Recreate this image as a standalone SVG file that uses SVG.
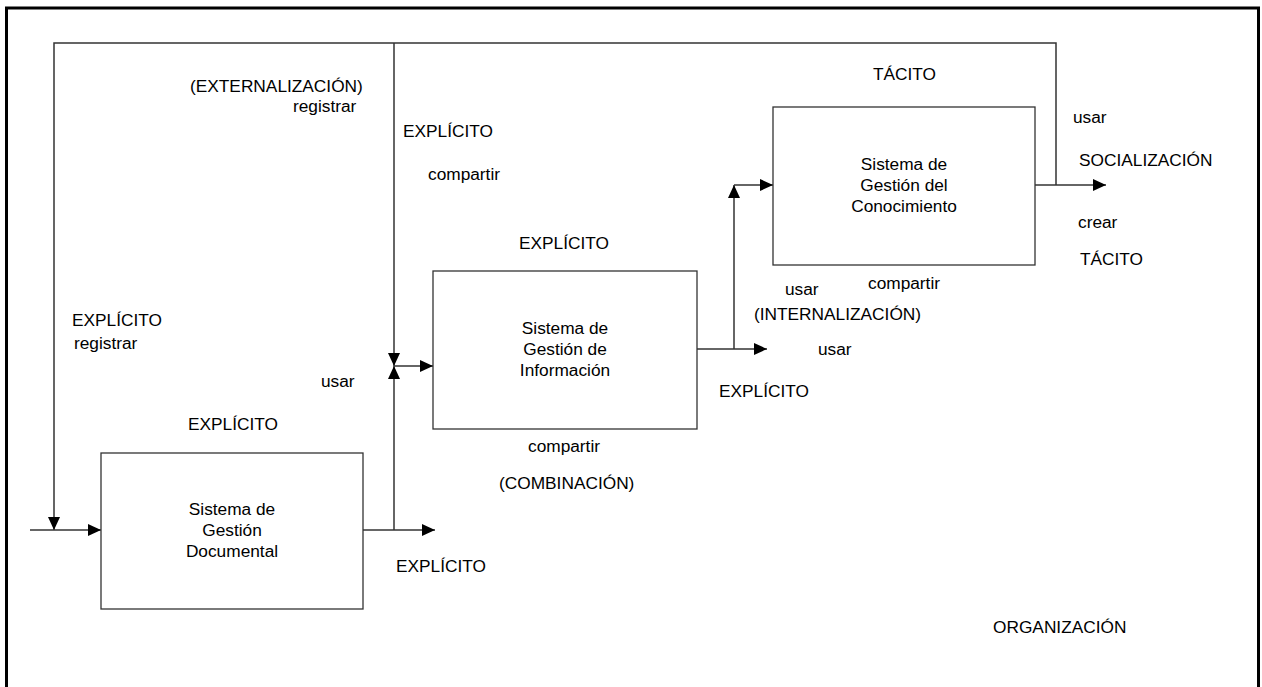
<svg xmlns="http://www.w3.org/2000/svg" width="1262" height="687" viewBox="0 0 1262 687">
  <style>
    .frame { fill: none; stroke: #000; stroke-width: 3; }
    .box { fill: #fff; stroke: #333; stroke-width: 1.3; }
    .wire { fill: none; stroke: #333; stroke-width: 1.5; }
    text { font-family: "Liberation Sans", Arial, sans-serif; font-size: 17.3px; fill: #000; }
    .mid { text-anchor: middle; }
  </style>
  <defs>
    <marker id="arrow" markerUnits="userSpaceOnUse" markerWidth="14" markerHeight="12" refX="13" refY="6" orient="auto">
      <path d="M0,0 L13,6 L0,12 Z" fill="#000"/>
    </marker>
  </defs>

  <rect width="1262" height="687" fill="#fff"/>

  <!-- organisation boundary (open at the bottom) -->
  <g id="organizacion">
    <rect class="frame" x="6.5" y="8" width="1252" height="700"/>
    <text x="993" y="633">ORGANIZACIÓN</text>
  </g>

  <!-- knowledge flows -->
  <g id="connectors">
    <!-- externalisation loop back to the document system -->
    <path class="wire" d="M1056,185 V43 H54 V530" marker-end="url(#arrow)"/>
    <!-- loop down to the information system -->
    <path class="wire" d="M394,43 V366" marker-end="url(#arrow)"/>
    <!-- external input to document system -->
    <path class="wire" d="M30,530 H101" marker-end="url(#arrow)"/>
    <!-- document system output -->
    <path class="wire" d="M363,530 H435" marker-end="url(#arrow)"/>
    <path class="wire" d="M394,530 V366" marker-end="url(#arrow)"/>
    <path class="wire" d="M394,366 H433" marker-end="url(#arrow)"/>
    <!-- information system output -->
    <path class="wire" d="M697,349 H767" marker-end="url(#arrow)"/>
    <path class="wire" d="M734,349 V185" marker-end="url(#arrow)"/>
    <path class="wire" d="M734,185 H773" marker-end="url(#arrow)"/>
    <!-- knowledge system output -->
    <path class="wire" d="M1035,185 H1106" marker-end="url(#arrow)"/>
  </g>

  <g id="sistema-documental">
    <rect class="box" x="101" y="453" width="262" height="156"/>
    <text class="mid" x="232" y="515">Sistema de</text>
    <text class="mid" x="232" y="536">Gestión</text>
    <text class="mid" x="232" y="557">Documental</text>
  </g>

  <g id="sistema-informacion">
    <rect class="box" x="433" y="271" width="264" height="158"/>
    <text class="mid" x="565" y="334">Sistema de</text>
    <text class="mid" x="565" y="355">Gestión de</text>
    <text class="mid" x="565" y="376">Información</text>
  </g>

  <g id="sistema-conocimiento">
    <rect class="box" x="773" y="107" width="262" height="158"/>
    <text class="mid" x="904" y="170">Sistema de</text>
    <text class="mid" x="904" y="191">Gestión del</text>
    <text class="mid" x="904" y="212">Conocimiento</text>
  </g>

  <!-- flow labels -->
  <g id="labels">
    <text x="190" y="92">(EXTERNALIZACIÓN)</text>
    <text x="293" y="112">registrar</text>
    <text x="403" y="137">EXPLÍCITO</text>
    <text x="428" y="180">compartir</text>
    <text x="519" y="249">EXPLÍCITO</text>
    <text x="873" y="80">TÁCITO</text>
    <text x="1073" y="123">usar</text>
    <text x="1079" y="166">SOCIALIZACIÓN</text>
    <text x="1078" y="228">crear</text>
    <text x="1080" y="265">TÁCITO</text>
    <text x="868" y="289">compartir</text>
    <text x="785" y="295">usar</text>
    <text x="754" y="320">(INTERNALIZACIÓN)</text>
    <text x="818" y="355">usar</text>
    <text x="719" y="397">EXPLÍCITO</text>
    <text x="528" y="452">compartir</text>
    <text x="499" y="489">(COMBINACIÓN)</text>
    <text x="72" y="326">EXPLÍCITO</text>
    <text x="74" y="349">registrar</text>
    <text x="321" y="387">usar</text>
    <text x="188" y="430">EXPLÍCITO</text>
    <text x="396" y="572">EXPLÍCITO</text>
  </g>
</svg>
